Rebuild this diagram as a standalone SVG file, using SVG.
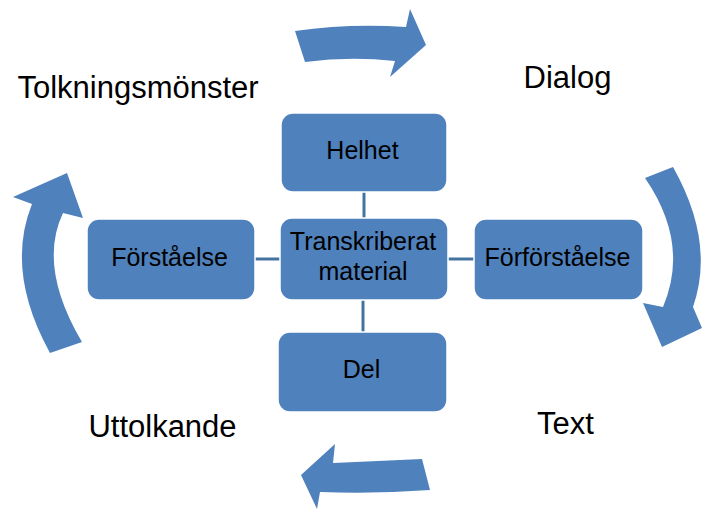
<svg xmlns="http://www.w3.org/2000/svg" width="702" height="510" viewBox="0 0 702 510">
<style>
.box{fill:#4F81BD;stroke:#ffffff;stroke-width:1.5}
.bt{font-family:"Liberation Sans",Arial,sans-serif;font-size:25px;fill:#000;text-anchor:middle}
.lt{font-family:"Liberation Sans",Arial,sans-serif;font-size:31px;fill:#000;text-anchor:middle}
.arr{fill:#4F81BD}
.con{stroke:#45739F;stroke-width:3;fill:none}
</style>
<rect width="702" height="510" fill="#ffffff"/>
<g id="arrows">
<path class="arr" d="M295,31 Q350,23 406,27 L410,9 L426,45 L390,77 L395,61 Q350,56 305,62 Z"/>
<path class="arr" d="M673,167 Q715.5,242.5 693,307 L702,328 L662,347 L643,303 L663,307 Q690,243.5 645,178 Z"/>
<path class="arr" d="M422,459 Q378,461 333,463 L335,444 L301,475 L317,509 L320,492 Q375,494 430,490 Z"/>
<path class="arr" d="M50,353 Q5,271.5 32,204 L13,197 L67,173 L83,218 L63,213 Q37.5,266.5 82,342 Z"/>
</g>
<g id="connectors">
<line class="con" x1="364" y1="192" x2="364" y2="218"/>
<line class="con" x1="363" y1="300" x2="363" y2="332"/>
<line class="con" x1="255" y1="259" x2="280" y2="259"/>
<line class="con" x1="448" y1="259" x2="474" y2="259"/>
</g>
<g id="helhet">
<rect class="box" x="281" y="113" width="166" height="79" rx="12"/>
<text class="bt" x="362.5" y="159">Helhet</text>
</g>
<g id="transkriberat">
<rect class="box" x="280" y="218" width="168" height="82" rx="12"/>
<text class="bt" x="363" y="250">Transkriberat</text>
<text class="bt" x="363" y="280">material</text>
</g>
<g id="del">
<rect class="box" x="278" y="332" width="169" height="80" rx="12"/>
<text class="bt" x="361.5" y="378">Del</text>
</g>
<g id="forstaelse">
<rect class="box" x="87" y="219" width="168" height="81" rx="12"/>
<text class="bt" x="169.5" y="266">Förståelse</text>
</g>
<g id="forforstaelse">
<rect class="box" x="474" y="219" width="169" height="81" rx="12"/>
<text class="bt" x="557.5" y="266">Förförståelse</text>
</g>
<g id="labels">
<text class="lt" x="138" y="98">Tolkningsmönster</text>
<text class="lt" x="567.5" y="88">Dialog</text>
<text class="lt" x="162.5" y="437">Uttolkande</text>
<text class="lt" x="565.5" y="434">Text</text>
</g>
</svg>
